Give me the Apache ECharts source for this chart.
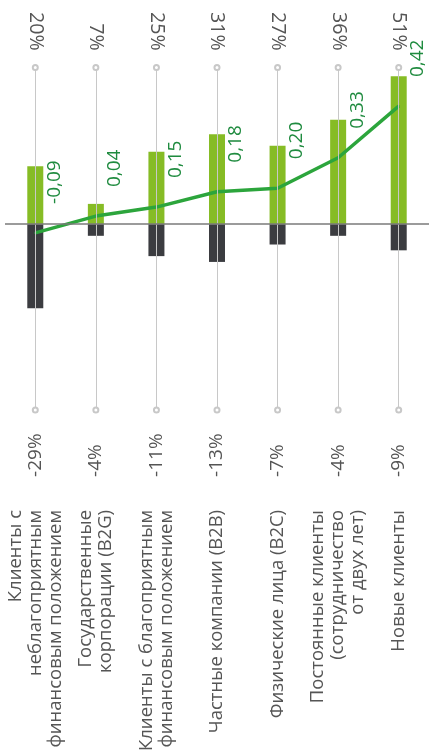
<!DOCTYPE html>
<html>
<head>
<meta charset="UTF-8">
<title>Клиенты</title>
<script src="https://cdn.jsdelivr.net/npm/echarts@6/dist/echarts.min.js"></script>
<style>
html, body { margin: 0; padding: 0; background: #fff; }
#chart { width: 434px; height: 754px; }
</style>
</head>
<body>
<div id="chart"></div>
<script>
// категории (снизу, повёрнуты)
var categories = [
  'Клиенты с\nнеблагоприятным\nфинансовым положением',
  'Государственные\nкорпорации (B2G)',
  'Клиенты с благоприятным\nфинансовым положением',
  'Частные компании (B2B)',
  'Физические лица (B2C)',
  'Постоянные клиенты\n(сотрудничество\nот двух лет)',
  'Новые клиенты'
];
var positive = [20, 7, 25, 31, 27, 36, 51];
var negative = [-29, -4, -11, -13, -7, -4, -9];
// линия индекса (положение, в единицах оси)
var indexLine = [-3, 2.8, 5.9, 11.2, 12.4, 22.9, 40.7];
var indexLabels = ['-0,09', '0,04', '0,15', '0,18', '0,20', '0,33', '0,42'];

var yMin = -64, yMax = 54;
var textColor = '#555';
var font = 'Open Sans';

var stems = categories.map(function (c, i) {
  return [{ coord: [i, yMax] }, { coord: [i, yMin] }];
});

var chart = echarts.init(document.getElementById('chart'));
chart.setOption({
  animation: false,
  grid: { left: 5, right: 5, top: 67.5, bottom: 344 },
  xAxis: [
    {
      type: 'category', position: 'bottom', data: categories,
      axisLine: { show: false }, axisTick: { show: false },
      axisLabel: {
        rotate: 90, align: 'left', margin: 67, fontFamily: font, fontSize: 19, color: textColor,
        formatter: function (v, i) { return negative[i] + '%'; }
      }
    },
    {
      type: 'category', position: 'bottom', data: categories,
      axisLine: { show: false }, axisTick: { show: false },
      axisLabel: {
        rotate: 90, margin: 100, fontFamily: font, fontSize: 18.5, lineHeight: 20, color: textColor,
        interval: 0
      }
    },
    {
      type: 'category', position: 'top', data: categories,
      axisLine: { show: false }, axisTick: { show: false },
      axisLabel: {
        rotate: 90, margin: 17, fontFamily: font, fontSize: 19.5, color: textColor,
        formatter: function (v, i) { return positive[i] + '%'; }
      }
    }
  ],
  yAxis: { type: 'value', min: yMin, max: yMax, show: false },
  series: [
    {
      type: 'line', data: [], z: 1, silent: true,
      markLine: {
        silent: true, symbol: ['emptyCircle', 'emptyCircle'], symbolSize: 5,
        label: { show: false },
        lineStyle: { color: '#c8c8c8', width: 1, type: 'solid' },
        data: stems
      }
    },
    {
      type: 'bar', stack: 'v', data: positive, barWidth: 16, z: 2,
      itemStyle: { color: '#86bc25' }
    },
    {
      type: 'bar', stack: 'v', data: negative, barWidth: 16, z: 2,
      itemStyle: { color: '#3b3c40' },
      markLine: {
        silent: true, symbol: 'none', label: { show: false },
        lineStyle: { color: '#7a7a7a', width: 1.5, type: 'solid' },
        data: [{ yAxis: 0 }]
      }
    },
    {
      type: 'line', data: indexLine, z: 3,
      symbol: 'circle', symbolSize: 2, showSymbol: true,
      lineStyle: { color: '#2ca53c', width: 3.5 },
      itemStyle: { color: '#2ca53c' },
      label: {
        show: true, position: 'inside', offset: [29, 19], rotate: 90,
        align: 'left', verticalAlign: 'middle',
        fontFamily: font, fontSize: 19, color: '#1f8b3f',
        formatter: function (p) { return indexLabels[p.dataIndex]; }
      }
    }
  ]
});
</script>
</body>
</html>
